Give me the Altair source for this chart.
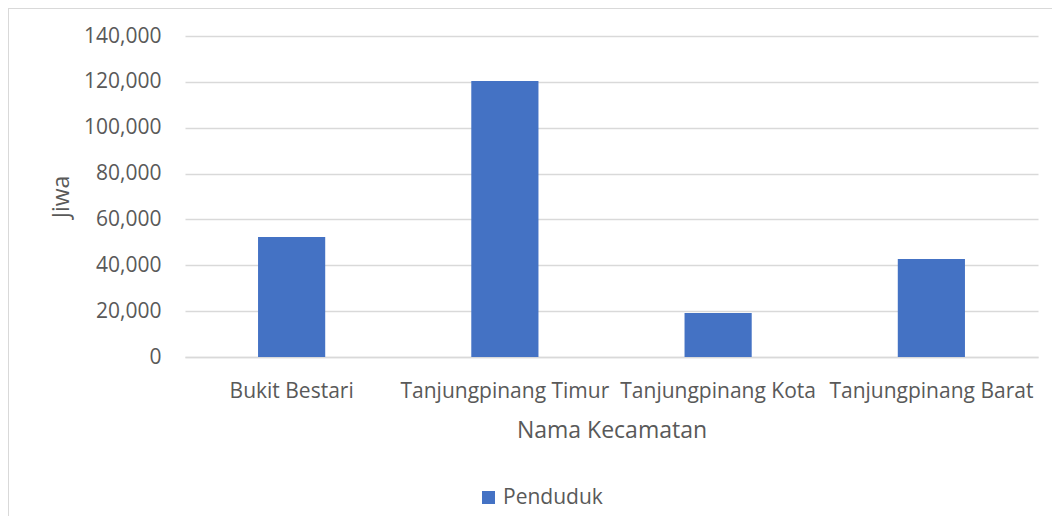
import altair as alt
import pandas as pd

kecamatan = ["Bukit Bestari", "Tanjungpinang Timur", "Tanjungpinang Kota", "Tanjungpinang Barat"]
penduduk = [52300, 120400, 19200, 42700]
series = ["Penduduk"] * 4

df = pd.DataFrame({"Nama Kecamatan": kecamatan, "Jiwa": penduduk, "Seri": series})

FONT = "Open Sans"
GREY = "#595959"
W, H = 853, 321

bars = alt.Chart(df).mark_bar(color="#4472C4").encode(
    x=alt.X("Nama Kecamatan:N", sort=kecamatan,
            scale=alt.Scale(paddingInner=0.685, paddingOuter=0.3425),
            axis=alt.Axis(title="Nama Kecamatan", labelAngle=0, labelPadding=23,
                          titlePadding=18, ticks=False, domainColor="#d9d9d9",
                          domainWidth=1.3, labelLimit=0)),
    y=alt.Y("Jiwa:Q", scale=alt.Scale(domain=[0, 140000]),
            axis=alt.Axis(title="Jiwa", values=list(range(0, 140001, 20000)), format=",.0f",
                          ticks=False, domain=False, labelPadding=24, titlePadding=10,
                          gridColor="#d9d9d9", gridWidth=1.3)),
    color=alt.Color("Seri:N", scale=alt.Scale(range=["#4472C4"]),
                    legend=alt.Legend(title=None, orient="none", legendX=293, legendY=451,
                                      symbolType="square", symbolSize=170,
                                      labelFontSize=21, labelColor=GREY, labelFont=FONT)),
)

top_border = alt.Chart(df).mark_rule(stroke="#d9d9d9", strokeWidth=1).encode(
    x=alt.value(-177), x2=alt.value(874), y=alt.value(-27.5)
)
left_border = alt.Chart(df).mark_rule(stroke="#d9d9d9", strokeWidth=1).encode(
    x=alt.value(-176.5), y=alt.value(-28), y2=alt.value(480)
)

chart = alt.layer(top_border, left_border, bars).properties(
    width=W, height=H,
    autosize=alt.AutoSizeParams(type="none"),
    padding={"left": 177, "top": 28, "right": 14, "bottom": 160},
).configure_view(stroke=None).configure_axis(
    labelFont=FONT, titleFont=FONT, labelColor=GREY, titleColor=GREY,
    labelFontSize=21, titleFontSize=23, titleFontWeight="normal", labelFontWeight="normal"
)

chart.save("out.html", embed_options={"renderer": "svg", "actions": False})
